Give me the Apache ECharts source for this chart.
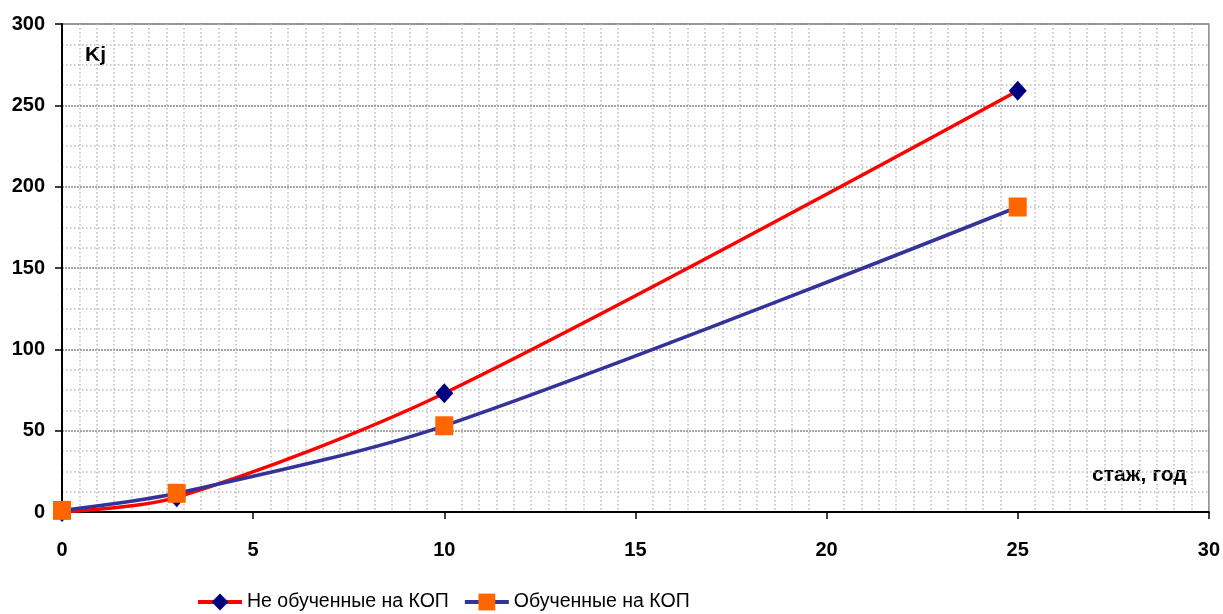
<!DOCTYPE html>
<html>
<head>
<meta charset="utf-8">
<script src="https://cdn.jsdelivr.net/npm/echarts@6/dist/echarts.min.js"></script>
<style>
html,body{margin:0;padding:0;background:#fff;}
#c{width:1223px;height:614px;}
</style>
</head>
<body>
<div id="c"></div>
<script>
// Data
var xUntrained = [0, 3, 10, 25];
var yUntrained = [0, 9, 73, 259];
var xTrained = [0, 3, 10, 25];
var yTrained = [1, 11.5, 53, 187.5];
var seriesNames = ['Не обученные на КОП', 'Обученные на КОП'];
var yAxisTitle = 'Kj';
var xAxisTitle = 'стаж, год';

function pairs(xs, ys){ return xs.map(function(x,i){ return [x, ys[i]]; }); }

var FONT = '"Liberation Sans", Arial, sans-serif';
var chart = echarts.init(document.getElementById('c'));
chart.setOption({
  animation: false,
  backgroundColor: '#fff',
  grid: {left: 62, right: 13, top: 24, bottom: 102, show: true, borderColor: '#888', borderWidth: 1.5, backgroundColor: 'transparent'},
  xAxis: {
    type: 'value', min: 0, max: 30, interval: 5,
    axisLine: {show: true, onZero: false, lineStyle: {color: '#000', width: 2}},
    axisTick: {show: true, length: 7, lineStyle: {color: '#000', width: 1.5}},
    axisLabel: {margin: 28, fontFamily: FONT, fontWeight: 'bold', fontSize: 20, color: '#000'},
    splitLine: {show: false},
    minorTick: {show: false, splitNumber: 11},
    minorSplitLine: {show: true, lineStyle: {color: '#bdbdbd', type: [1.5, 2.5], width: 1.5}}
  },
  yAxis: {
    type: 'value', min: 0, max: 300, interval: 50,
    axisLine: {show: true, onZero: false, lineStyle: {color: '#000', width: 2}},
    axisTick: {show: true, length: 7, lineStyle: {color: '#000', width: 1.5}},
    axisLabel: {margin: 17, fontFamily: FONT, fontWeight: 'bold', fontSize: 20, color: '#000'},
    splitLine: {show: true, lineStyle: {color: '#888', width: 1.5, type: [2, 1]}},
    minorTick: {show: false, splitNumber: 4},
    minorSplitLine: {show: true, lineStyle: {color: '#bdbdbd', type: [1.5, 2.5], width: 1.5}}
  },
  legend: {
    top: 592, left: 196, padding: 0,
    itemWidth: 44, itemHeight: 21, itemGap: 14,
    lineStyle: {width: 4},
    textStyle: {fontFamily: FONT, fontSize: 19.5, color: '#000'},
    data: seriesNames
  },
  graphic: [
    {type: 'text', left: 85, top: 45, style: {text: yAxisTitle, font: 'bold 21px ' + FONT, fill: '#000'}},
    {type: 'text', left: 1092, top: 465, style: {text: xAxisTitle, font: 'bold 21px ' + FONT, fill: '#000'}}
  ],
  series: [
    {
      name: seriesNames[0], type: 'line', smooth: 0.3,
      data: pairs(xUntrained, yUntrained),
      symbol: 'diamond', symbolSize: [18, 20],
      lineStyle: {color: '#ff0000', width: 3.5},
      itemStyle: {color: '#000080'}
    },
    {
      name: seriesNames[1], type: 'line', smooth: 0.3,
      data: pairs(xTrained, yTrained),
      symbol: 'rect', symbolSize: [18, 19],
      lineStyle: {color: '#333399', width: 3.5},
      itemStyle: {color: '#ff6600'}
    }
  ]
});
</script>
</body>
</html>
